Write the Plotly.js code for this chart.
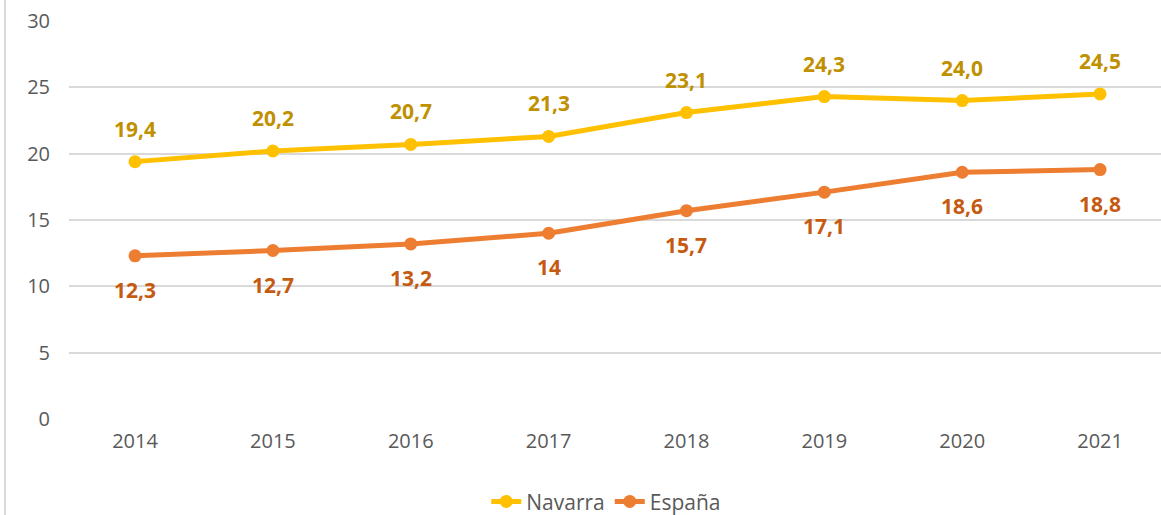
<!DOCTYPE html>
<html>
<head>
<meta charset="utf-8">
<script src="https://cdn.plot.ly/plotly-3.0.1.min.js"></script>
<style>
html,body{margin:0;padding:0;background:#fff;}
#wrap{position:relative;width:1161px;height:515px;overflow:hidden;}
#chart{width:1161px;height:515px;}
#edge{position:absolute;left:4px;top:0;width:2px;height:515px;background:#d9d9d9;}
</style>
</head>
<body>
<div id="wrap"><div id="chart"></div><div id="edge"></div></div>
<script>
const years = ['2014','2015','2016','2017','2018','2019','2020','2021'];
const navarra = [19.4, 20.2, 20.7, 21.3, 23.1, 24.3, 24.0, 24.5];
const espana = [12.3, 12.7, 13.2, 14, 15.7, 17.1, 18.6, 18.8];
const navarraLabels = ['19,4','20,2','20,7','21,3','23,1','24,3','24,0','24,5'];
const espanaLabels = ['12,3','12,7','13,2','14','15,7','17,1','18,6','18,8'];
const yTicks = [0,5,10,15,20,25,30];

const fontFam = 'Open Sans, Liberation Sans, sans-serif';
const traces = [
  {x: years, y: navarra, name: 'Navarra', type: 'scatter', mode: 'lines+markers',
   line: {color: '#FFC000', width: 5}, marker: {color: '#FFC000', size: 13}},
  {x: years, y: espana, name: 'España', type: 'scatter', mode: 'lines+markers',
   line: {color: '#ED7D31', width: 5}, marker: {color: '#ED7D31', size: 13}}
];
const annotations = [];
years.forEach((yr, i) => {
  annotations.push({xref: 'x', yref: 'y', x: i, y: navarra[i], text: '<b>' + navarraLabels[i] + '</b>', showarrow: false,
    yshift: 33, font: {family: fontFam, size: 21, color: '#BF9000'}});
  annotations.push({xref: 'x', yref: 'y', x: i, y: espana[i], text: '<b>' + espanaLabels[i] + '</b>', showarrow: false,
    yshift: -34, font: {family: fontFam, size: 21, color: '#C55A11'}});
});
const layout = {
  width: 1161, height: 515,
  margin: {l: 69, r: 0, t: 21, b: 96, autoexpand: false},
  paper_bgcolor: '#ffffff', plot_bgcolor: '#ffffff',
  font: {family: fontFam, color: '#595959', size: 21},
  showlegend: true,
  legend: {orientation: 'h', x: 0.492, xanchor: 'center', y: -0.208, yanchor: 'middle',
    font: {size: 21, color: '#595959'}, traceorder: 'normal'},
  xaxis: {type: 'category', range: [-0.479, 7.442], showgrid: false, zeroline: false,
    showline: false, ticks: '', ticklabelstandoff: 8, tickfont: {size: 20, color: '#595959'}},
  yaxis: {range: [0, 30], tickvals: yTicks, showgrid: true, gridcolor: '#d9d9d9', gridwidth: 2,
    zeroline: false, showline: false, ticks: '', ticklabelstandoff: 18,
    tickfont: {size: 20, color: '#595959'}},
  annotations: annotations
};
Plotly.newPlot('chart', traces, layout, {displayModeBar: false, staticPlot: true});
</script>
</body>
</html>
